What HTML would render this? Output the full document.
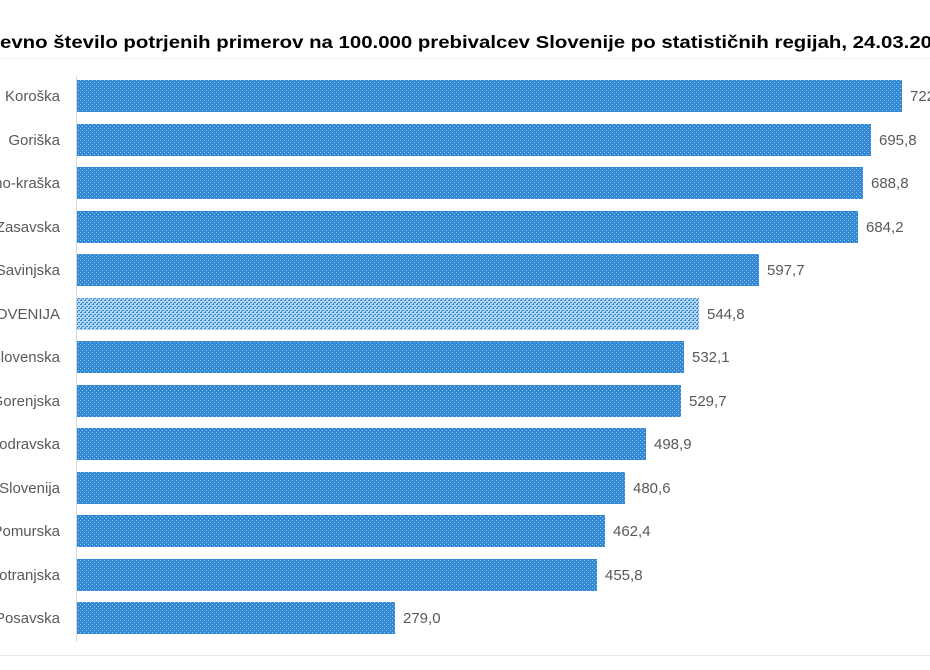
<!DOCTYPE html>
<html><head><meta charset="utf-8"><style>
html,body{margin:0;padding:0;background:#fff;}
svg{display:block;}
</style></head><body>
<svg width="930" height="670" xmlns="http://www.w3.org/2000/svg" font-family="Liberation Sans, sans-serif">
<defs>
<pattern id="p1" width="4" height="4" patternUnits="userSpaceOnUse">
<rect width="4" height="4" fill="#3388d3"/>
<rect x="0" y="0" width="1" height="1" fill="#95c8f0"/>
<rect x="2" y="2" width="1" height="1" fill="#95c8f0"/>
</pattern>
<pattern id="p2" width="4" height="4" patternUnits="userSpaceOnUse">
<rect width="4" height="4" fill="#b0d6f4"/>
<rect x="0" y="0" width="2" height="1" fill="#3a8ad0"/>
<rect x="2" y="2" width="2" height="1" fill="#3a8ad0"/>
<rect x="1" y="3" width="1" height="1" fill="#3a8ad0"/>
</pattern>
</defs>
<rect width="930" height="670" fill="#fff"/>
<line x1="0" y1="58.5" x2="930" y2="58.5" stroke="#f0f0f0"/>
<line x1="0" y1="655.5" x2="930" y2="655.5" stroke="#e6e6e6"/>
<text x="0" y="48" font-size="17.5" font-weight="bold" fill="#000" textLength="932" lengthAdjust="spacingAndGlyphs">evno število potrjenih primerov na 100.000 prebivalcev Slovenije po statističnih regijah, 24.03.20</text>
<line x1="76.5" y1="76" x2="76.5" y2="642" stroke="#d9d9d9"/>
<g font-size="15" fill="#595959">
<rect x="77" y="80" width="825" height="32" fill="url(#p1)"/><text x="60" y="101" text-anchor="end">Koroška</text><text x="910" y="101">722,3</text>
<rect x="77" y="124" width="794" height="32" fill="url(#p1)"/><text x="60" y="145" text-anchor="end">Goriška</text><text x="879" y="145">695,8</text>
<rect x="77" y="167" width="786" height="32" fill="url(#p1)"/><text x="60" y="188" text-anchor="end">Obalno-kraška</text><text x="871" y="188">688,8</text>
<rect x="77" y="211" width="781" height="32" fill="url(#p1)"/><text x="60" y="232" text-anchor="end">Zasavska</text><text x="866" y="232">684,2</text>
<rect x="77" y="254" width="682" height="32" fill="url(#p1)"/><text x="60" y="275" text-anchor="end">Savinjska</text><text x="767" y="275">597,7</text>
<rect x="77" y="298" width="622" height="32" fill="url(#p2)"/><text x="60" y="319" text-anchor="end">SLOVENIJA</text><text x="707" y="319">544,8</text>
<rect x="77" y="341" width="607" height="32" fill="url(#p1)"/><text x="60" y="362" text-anchor="end">Osrednjeslovenska</text><text x="692" y="362">532,1</text>
<rect x="77" y="385" width="604" height="32" fill="url(#p1)"/><text x="60" y="406" text-anchor="end">Gorenjska</text><text x="689" y="406">529,7</text>
<rect x="77" y="428" width="569" height="32" fill="url(#p1)"/><text x="60" y="449" text-anchor="end">Podravska</text><text x="654" y="449">498,9</text>
<rect x="77" y="472" width="548" height="32" fill="url(#p1)"/><text x="60" y="493" text-anchor="end">Jugovzhodna Slovenija</text><text x="633" y="493">480,6</text>
<rect x="77" y="515" width="528" height="32" fill="url(#p1)"/><text x="60" y="536" text-anchor="end">Pomurska</text><text x="613" y="536">462,4</text>
<rect x="77" y="559" width="520" height="32" fill="url(#p1)"/><text x="60" y="580" text-anchor="end">Primorsko-notranjska</text><text x="605" y="580">455,8</text>
<rect x="77" y="602" width="318" height="32" fill="url(#p1)"/><text x="60" y="623" text-anchor="end">Posavska</text><text x="403" y="623">279,0</text>
</g>
</svg>
</body></html>
